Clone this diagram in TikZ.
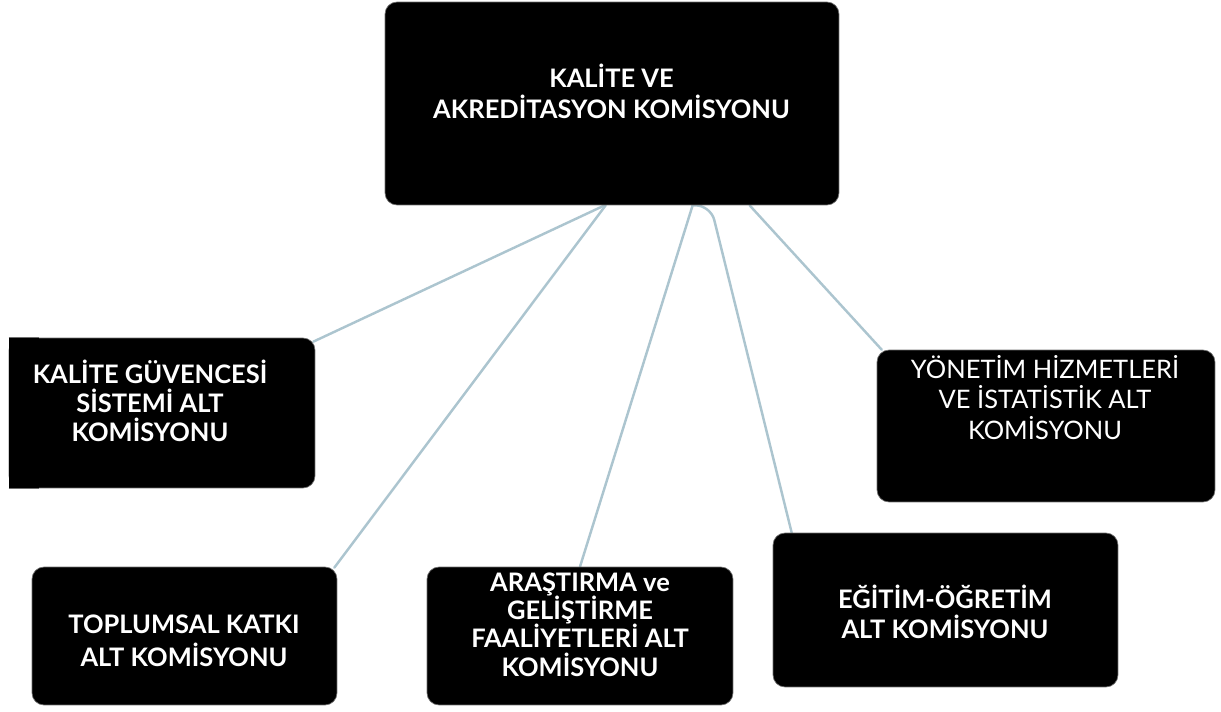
\documentclass[tikz,border=0pt]{standalone}
\usepackage{fontspec}
\setmainfont{Lato}
\usetikzlibrary{backgrounds}
\definecolor{linkcol}{RGB}{172,197,207}
\definecolor{edgecol}{RGB}{110,110,110}
\tikzset{
  boxnode/.style={fill=black, draw=edgecol, line width=0.4pt, rounded corners=0.24cm, inner sep=0pt},
  boxtext/.style={text=white, align=center, font=\bfseries\fontsize{14.5}{17}\selectfont, inner sep=0pt},
  boxtextlight/.style={text=white, align=center, font=\fontsize{14.5}{17.3}\selectfont, inner sep=0pt},
  link/.style={draw=linkcol, line width=1.4pt, line cap=round}
}
\begin{document}
\begin{tikzpicture}[x=0.02cm,y=-0.02cm]
\useasboundingbox (0,0) rectangle (1221,711);
% boxes
\node[boxnode, minimum width=9.08cm, minimum height=4.06cm] (top) at (612,103.5) {};
\node[boxnode, minimum width=6.12cm, minimum height=3.0cm] (kgs) at (162,413) {};
\fill[black] (kgs.south west) rectangle ([xshift=0.6cm]kgs.north west);
\draw[edgecol, line width=0.4pt] (kgs.north west) -- ([xshift=0.6cm]kgs.north west);
\draw[edgecol, line width=0.4pt] (kgs.south west) -- ([xshift=0.6cm]kgs.south west);
\node[boxnode, minimum width=6.1cm, minimum height=2.76cm] (toplumsal) at (184.5,636) {};
\node[boxnode, minimum width=6.12cm, minimum height=2.76cm] (arastirma) at (580,636) {};
\node[boxnode, minimum width=6.9cm, minimum height=3.08cm] (egitim) at (945.5,610) {};
\node[boxnode, minimum width=6.76cm, minimum height=3.04cm] (yonetim) at (1046,426) {};
% texts
\node[boxtext, font=\bfseries\fontsize{14.5}{17.6}\selectfont] (toptext) at (611.5,91.5) {KALİTE VE\\AKREDİTASYON KOMİSYONU};
\node[boxtext, font=\bfseries\fontsize{14.5}{16.5}\selectfont] (kgstext) at (150,401) {KALİTE GÜVENCESİ\\SİSTEMİ ALT\\KOMİSYONU};
\node[boxtext, font=\bfseries\fontsize{14.5}{18.8}\selectfont] (toplumsaltext) at (184,640.5) {TOPLUMSAL KATKI\\ALT KOMİSYONU};
\node[boxtext, font=\bfseries\fontsize{14.5}{16.2}\selectfont] (arastirmatext) at (580,624.5) {ARAŞTIRMA ve\\GELİŞTİRME\\FAALİYETLERİ ALT\\KOMİSYONU};
\node[boxtext] (egitimtext) at (945,612) {EĞİTİM-ÖĞRETİM\\ALT KOMİSYONU};
\node[boxtextlight] (yonetimtext) at (1045,397.5) {YÖNETİM HİZMETLERİ\\VE İSTATİSTİK ALT\\KOMİSYONU};
% connectors
\begin{pgfonlayer}{background}
\draw[link] ([xshift=4.4cm]top.south west) -- ([xshift=-0.04cm,yshift=-0.08cm]kgs.north east);
\draw[link] ([xshift=4.42cm]top.south west) -- ([xshift=-0.06cm,yshift=-0.02cm]toplumsal.north east);
\draw[link] ([xshift=6.16cm]top.south west) -- (arastirma.north);
\draw[link, rounded corners=0.3cm] ([xshift=6.16cm]top.south west) -- ([xshift=6.52cm]top.south west) -- ([xshift=0.38cm]egitim.north west);
\draw[link] ([xshift=7.3cm]top.south west) -- ([xshift=0.1cm]yonetim.north west);
\end{pgfonlayer}
\end{tikzpicture}
\end{document}
